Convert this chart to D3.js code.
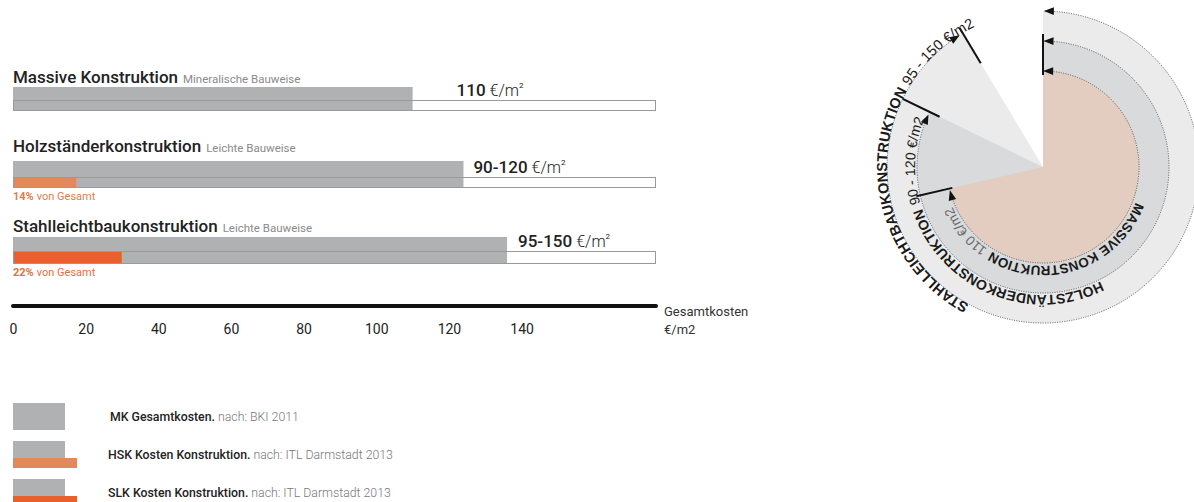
<!DOCTYPE html>
<html>
<head>
<meta charset="utf-8">
<script src="https://cdn.jsdelivr.net/npm/d3@7"></script>
<style>
  html, body { margin: 0; padding: 0; background: #fff; }
  svg { display: block; }
</style>
</head>
<body>
<svg id="chart" width="1194" height="502"></svg>
<script>
// ---- data ----
const types = ["Massive Konstruktion", "Holzständerkonstruktion", "Stahlleichtbaukonstruktion"];
const subtitles = ["Mineralische Bauweise", "Leichte Bauweise", "Leichte Bauweise"];
const totalCost = [110, 124, 136];            // Gesamtkosten, €/m²
const costLabels = ["110", "90-120", "95-150"];
const constructionShare = [0, 14, 22];         // Anteil Konstruktion, % von Gesamt
const axisTicks = [0, 20, 40, 60, 80, 100, 120, 140];
const axisMax = 177;

const ringNames = ["MASSIVE KONSTRUKTION", "HOLZSTÄNDERKONSTRUKTION", "STAHLLEICHTBAUKONSTRUKTION"];
const ringLabels = ["110 €/m2", "90 - 120 €/m2", "95 - 150 €/m2"];
const ringSweep = [71.4, 82.2, 91.4];          // Anteil am Vollkreis, %

const legendKeys = ["MK Gesamtkosten.", "HSK Kosten Konstruktion.", "SLK Kosten Konstruktion."];
const legendSources = ["nach: BKI 2011", "nach: ITL Darmstadt 2013", "nach: ITL Darmstadt 2013"];

// ---- styles ----
const GREY = "#b0b1b3";
const ORANGE = [null, "#e0895a", "#e8612d"];
const ORANGE_TEXT = [null, "#d9804f", "#e0703f"];
const FONT = "Roboto, 'Liberation Sans', sans-serif";

const svg = d3.select("#chart");

// ---- bar chart ----
const x = d3.scaleLinear().domain([0, axisMax]).range([13, 656]);
const titleBase = [83, 152, 232];
const barTop = [87, 161, 237];
const bandTop = [100, 177, 251];
const barBottom = [111, 188, 264];
const labelDx = [44, 10, 11];

const rows = svg.append("g").selectAll("g").data(types).join("g");

rows.each(function(name, i) {
  const g = d3.select(this);

  const title = g.append("text")
    .attr("x", x(0)).attr("y", titleBase[i])
    .attr("font-family", FONT).attr("fill", "#222");
  title.append("tspan").attr("font-size", 17).attr("font-weight", 500).text(name);
  title.append("tspan").attr("font-size", 11.5).attr("fill", "#8a8a8a").attr("dx", 5).text(subtitles[i]);

  // total cost bar
  g.append("rect")
    .attr("x", x(0)).attr("y", barTop[i])
    .attr("width", x(totalCost[i]) - x(0)).attr("height", barBottom[i] - barTop[i])
    .attr("fill", GREY);

  // construction share bar
  if (constructionShare[i] > 0) {
    g.append("rect")
      .attr("x", x(0)).attr("y", bandTop[i])
      .attr("width", x(totalCost[i] * constructionShare[i] / 100) - x(0))
      .attr("height", barBottom[i] - bandTop[i])
      .attr("fill", ORANGE[i]);
    const t = g.append("text")
      .attr("x", x(0)).attr("y", barBottom[i] + 12)
      .attr("font-family", FONT).attr("font-size", 11).attr("fill", ORANGE_TEXT[i]);
    t.append("tspan").attr("font-weight", 700).text(constructionShare[i] + "%");
    t.append("tspan").attr("dx", 3).text("von Gesamt");
  }

  // frame of the scale band
  g.append("rect")
    .attr("x", x(0) + 0.5).attr("y", bandTop[i] + 0.5)
    .attr("width", x(axisMax) - x(0) - 1).attr("height", barBottom[i] - bandTop[i] - 1)
    .attr("fill", "none").attr("stroke", "#9a9a9a").attr("stroke-width", 1);

  // value label
  const v = g.append("text")
    .attr("x", x(totalCost[i]) + labelDx[i]).attr("y", bandTop[i] - 4)
    .attr("font-family", FONT).attr("fill", "#222");
  v.append("tspan").attr("font-size", 17).attr("font-weight", 500).text(costLabels[i]);
  v.append("tspan").attr("font-size", 16).attr("font-weight", 300).attr("dx", 4).text("€/m");
  v.append("tspan").attr("font-size", 8).attr("dy", -8).text("2");
});

// axis
const axisY = 306;
const axisG = svg.append("g").attr("transform", `translate(0,${axisY})`);
axisG.call(d3.axisBottom(x).tickValues(axisTicks).tickSize(0).tickPadding(18));
axisG.select(".domain").remove();
axisG.selectAll(".tick text")
  .attr("font-family", FONT).attr("font-size", 14).attr("fill", "#222");
axisG.append("line")
  .attr("x1", x(0)).attr("x2", x(axisMax))
  .attr("stroke", "#111").attr("stroke-width", 4).attr("stroke-linecap", "round");
const axTitle = svg.append("text")
  .attr("font-family", FONT).attr("font-size", 13).attr("fill", "#333");
axTitle.append("tspan").attr("x", x(axisMax) + 8).attr("y", axisY + 10).text("Gesamtkosten");
axTitle.append("tspan").attr("x", x(axisMax) + 8).attr("y", axisY + 28).text("€/m2");

// ---- legend ----
const legTop = [403, 441, 479];
const leg = svg.append("g").selectAll("g").data(legendKeys).join("g");
leg.each(function(key, i) {
  const g = d3.select(this);
  const y0 = legTop[i];
  if (i === 0) {
    g.append("rect").attr("x", 13).attr("y", y0).attr("width", 52).attr("height", 27).attr("fill", GREY);
  } else {
    g.append("rect").attr("x", 13).attr("y", y0).attr("width", 52).attr("height", 19).attr("fill", GREY);
    g.append("rect").attr("x", 13).attr("y", y0 + 17).attr("width", 64).attr("height", 10).attr("fill", ORANGE[i]);
  }
  const t = g.append("text")
    .attr("x", i === 0 ? 110 : 108).attr("y", y0 + 18)
    .attr("font-family", FONT).attr("font-size", 12.3);
  t.append("tspan").attr("font-weight", 500).attr("fill", "#222").text(key);
  t.append("tspan").attr("font-weight", 300).attr("fill", "#777").attr("dx", 3).text(legendSources[i]);
});

// ---- ring diagram ----
const cx = 1043, cy = 167;
const ringR = [96, 126, 156];
const ringFill = ["#e3cdc0", "#d9dadc", "#ebebeb"];
const ang = d3.scaleLinear().domain([0, 100]).range([0, 2 * Math.PI]);
const ring = svg.append("g");

const pt = (r, a) => [cx + r * Math.sin(a), cy - r * Math.cos(a)];
function arcLine(r, a0, a1) {
  const p0 = pt(r, a0), p1 = pt(r, a1);
  const large = (a1 - a0) > Math.PI ? 1 : 0;
  return `M${p0[0]},${p0[1]}A${r},${r} 0 ${large} 1 ${p1[0]},${p1[1]}`;
}

const slice = d3.arc().innerRadius(0);
[2, 1, 0].forEach(i => {
  ring.append("path")
    .attr("transform", `translate(${cx},${cy})`)
    .attr("d", slice({ outerRadius: ringR[i], startAngle: 0, endAngle: ang(ringSweep[i]) }))
    .attr("fill", ringFill[i]);
});

// arrow heads
const defs = svg.append("defs");
defs.append("marker")
  .attr("id", "tip").attr("markerUnits", "userSpaceOnUse")
  .attr("markerWidth", 12).attr("markerHeight", 10)
  .attr("viewBox", "0 -5 10 10").attr("refX", 9).attr("refY", 0)
  .attr("orient", "auto-start-reverse")
  .append("path").attr("d", "M0,-3.8L10,0L0,3.8Z").attr("fill", "#111");

// dimension arcs
[0, 1, 2].forEach(i => {
  ring.append("path")
    .attr("d", arcLine(ringR[i], 0.012, ang(ringSweep[i]) - 0.03))
    .attr("fill", "none").attr("stroke", "#555").attr("stroke-width", 1)
    .attr("stroke-dasharray", "1,1.4")
    .attr("marker-start", "url(#tip)").attr("marker-end", "url(#tip)");
});

// extension ticks
const tickSpans = [[93, 130], [115, 156], [121, 162]];
const tick = (a, r0, r1) => {
  const p0 = pt(r0, a), p1 = pt(r1, a);
  ring.append("line")
    .attr("x1", p0[0]).attr("y1", p0[1]).attr("x2", p1[0]).attr("y2", p1[1])
    .attr("stroke", "#111").attr("stroke-width", 2);
};
tick(0, 92, 133);
[0, 1, 2].forEach(i => tick(ang(ringSweep[i]), tickSpans[i][0], tickSpans[i][1]));

// curved labels
const textR = [99, 128, 156];
const textEnd = [246, 292, 334];   // degrees, clockwise from top
const textSize = [13.5, 14, 14.5];
[0, 1, 2].forEach(i => {
  const r = textR[i];
  defs.append("path")
    .attr("id", "ringpath" + i)
    .attr("d", `M${cx},${cy - r}A${r},${r} 0 1 1 ${cx},${cy + r}A${r},${r} 0 1 1 ${cx},${cy - r}`);
  const t = ring.append("text")
    .attr("font-family", "'Liberation Sans', Arial, sans-serif")
    .attr("font-size", textSize[i]);
  const tp = t.append("textPath")
    .attr("href", "#ringpath" + i)
    .attr("startOffset", r * textEnd[i] * Math.PI / 180)
    .attr("text-anchor", "end");
  tp.append("tspan").attr("font-weight", 700).attr("fill", "#1a1a1a").text(ringNames[i]);
  tp.append("tspan").attr("fill", i === 0 ? "#6a6a6a" : "#1a1a1a").attr("dx", 5).text(ringLabels[i]);
});
</script>
</body>
</html>
